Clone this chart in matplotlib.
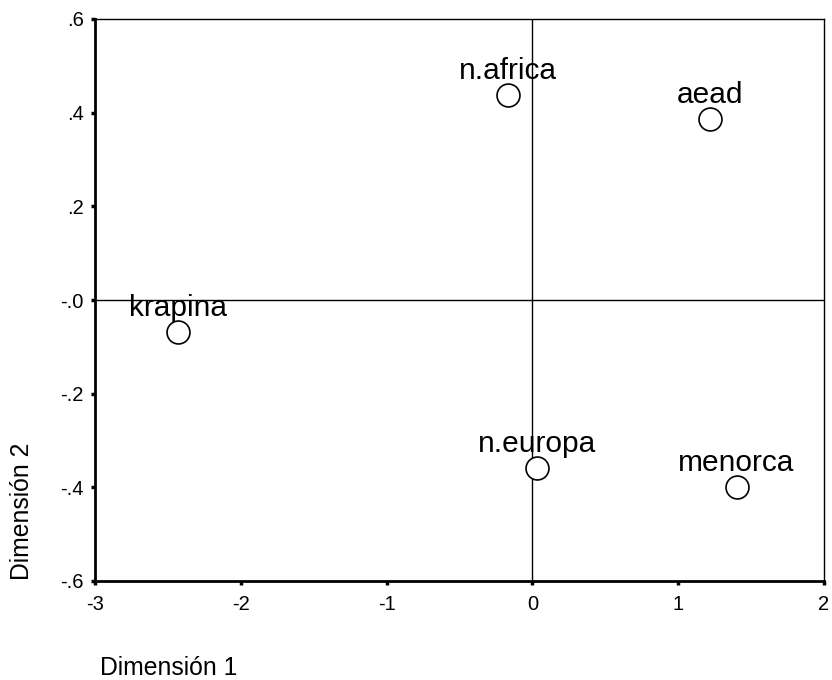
import matplotlib
matplotlib.use("Agg")
import matplotlib.pyplot as plt

plt.rcParams['font.family'] = ['Liberation Sans', 'DejaVu Sans']

names = ["krapina", "n.africa", "aead", "n.europa", "menorca"]
dim1 = [-2.43, -0.17, 1.22, 0.03, 1.40]
dim2 = [-0.068, 0.438, 0.386, -0.359, -0.399]

xticks = [-3, -2, -1, 0, 1, 2]
xticklabels = ["-3", "-2", "-1", "0", "1", "2"]
yticks = [-0.6, -0.4, -0.2, 0.0, 0.2, 0.4, 0.6]
yticklabels = ["-.6", "-.4", "-.2", "-.0", ".2", ".4", ".6"]

fig = plt.figure(figsize=(8.32, 6.8), dpi=100)
ax = fig.add_axes([95/832, 1-581/680, (824-95)/832, (581-19)/680])

ax.axhline(0, color='black', lw=1.0, zorder=1)
ax.axvline(0, color='black', lw=1.0, zorder=1)

ax.plot(dim1, dim2, linestyle='none', marker='o', markersize=16.5,
        markerfacecolor='white', markeredgecolor='black', markeredgewidth=1.2, zorder=3)
for n, x, y in zip(names, dim1, dim2):
    ax.annotate(n, (x, y), xytext=(0, 11.5), textcoords='offset points',
                ha='center', va='baseline', fontsize=21.5, color='black', zorder=4)

ax.set_xlim(-3, 2)
ax.set_ylim(-0.6, 0.6)
ax.set_xticks(xticks)
ax.set_xticklabels(xticklabels)
ax.set_yticks(yticks)
ax.set_yticklabels(yticklabels)
ax.tick_params(axis='both', direction='out', length=3, width=2.5, labelsize=14.5, colors='black')
ax.tick_params(axis='x', pad=7)
ax.tick_params(axis='y', pad=5)

for s in ['top', 'right']:
    ax.spines[s].set_linewidth(1.0)
for s in ['left', 'bottom']:
    ax.spines[s].set_linewidth(2.0)

fig.text(100/832, 1-675/680, "Dimensión 1", ha='left', va='baseline', fontsize=17.8)
fig.text(22/832, 1-580/680, "Dimensión 2", ha='center', va='bottom', rotation=90, fontsize=17.8)

fig.savefig("out.png", dpi=100, facecolor='white')
